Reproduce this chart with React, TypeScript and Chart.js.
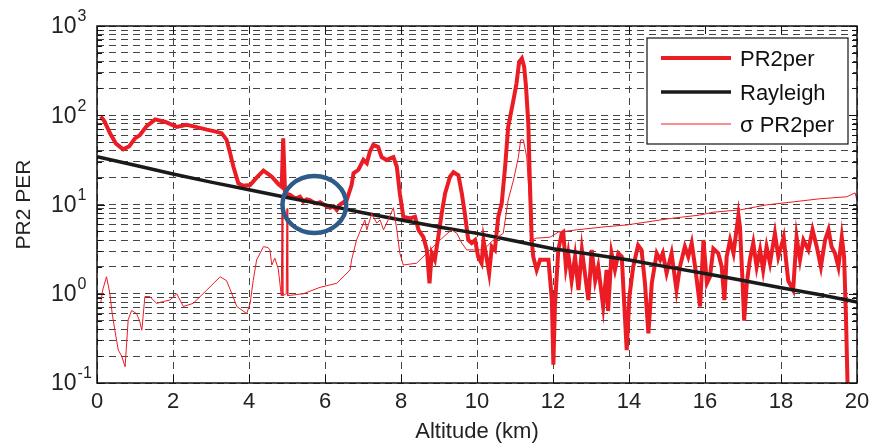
import React, { useEffect, useRef } from 'react';
import { Chart, registerables } from 'chart.js';

Chart.register(...registerables);

// ---------------- data ----------------
const pr2Alt = [
  0.1, 0.2, 0.35, 0.5, 0.69, 0.85, 1.0, 1.13, 1.3, 1.53, 1.8, 2.1, 2.36, 2.6, 2.89, 3.1, 3.28, 3.41, 3.5, 3.59,
  3.72, 3.85, 4.03, 4.2, 4.38, 4.5, 4.6, 4.77, 4.86, 4.9, 4.95, 5.08, 5.17, 5.25, 5.34, 5.43, 5.52, 5.6, 5.69, 5.78,
  5.87, 5.96, 6.05, 6.13, 6.22, 6.31, 6.4, 6.57, 6.7, 6.75, 6.88, 7.01, 7.1, 7.18, 7.27, 7.4, 7.49, 7.62, 7.8, 7.89,
  7.97, 8.06, 8.24, 8.37, 8.46, 8.59, 8.68, 8.75, 8.81, 8.89, 8.98, 9.07, 9.16, 9.29, 9.38, 9.51, 9.6, 9.68, 9.77, 9.86,
  9.95, 10.03, 10.12, 10.17, 10.26, 10.32, 10.39, 10.47, 10.56, 10.65, 10.74, 10.82, 10.96, 11.04, 11.11, 11.18, 11.24, 11.29, 11.35, 11.39,
  11.44, 11.48, 11.57, 11.66, 11.75, 11.88, 11.97, 12.01, 12.05, 12.14, 12.23, 12.27, 12.34, 12.4, 12.49, 12.58, 12.67, 12.76, 12.84, 12.93,
  13.02, 13.11, 13.19, 13.32, 13.41, 13.45, 13.54, 13.63, 13.72, 13.81, 13.86, 13.94, 14.01, 14.11, 14.24, 14.33, 14.42, 14.51, 14.6, 14.73,
  14.82, 14.89, 14.99, 15.12, 15.25, 15.34, 15.47, 15.56, 15.65, 15.74, 15.87, 15.96, 16.05, 16.13, 16.22, 16.35, 16.44, 16.51, 16.57, 16.66,
  16.75, 16.88, 16.92, 16.99, 17.03, 17.1, 17.18, 17.27, 17.36, 17.45, 17.53, 17.62, 17.71, 17.84, 17.93, 18.07, 18.19, 18.32, 18.41, 18.5,
  18.59, 18.72, 18.83, 18.94, 19.05, 19.16, 19.25, 19.33, 19.42, 19.51, 19.6, 19.66, 19.71, 19.75,
];
const pr2Val = [
  97, 85, 62, 48, 41.5, 45, 55, 60, 75, 90, 84, 74, 78, 74, 69, 66, 63, 53, 38, 26.5,
  17.3, 16.2, 16.5, 20, 24, 22, 20.5, 17, 15.8, 55, 13.3, 12.8, 12.0, 11.7, 12.2, 10.8, 11.4, 11.2, 10.6, 10.3,
  10.6, 10.0, 9.6, 9.2, 9.6, 8.7, 10, 11.2, 16.5, 22.4, 24.5, 31.6, 29, 39, 46.5, 44, 34, 31.6, 34, 26.5,
  13.3, 7.3, 7.0, 7.3, 5.2, 4.3, 3.1, 1.31, 2.84, 2.4, 4.3, 7.9, 13.3, 20.5, 23, 21.3, 13.3, 7.9, 4.0, 3.7,
  4.0, 2.6, 2.2, 4.0, 2.4, 1.7, 3.37, 3.1, 7.3, 10.3, 26.5, 74, 149, 228, 398, 434, 350, 209, 81, 18.8,
  4.0, 2.6, 1.85, 2.4, 2.4, 2.4, 0.85, 0.16, 0.72, 3.1, 4.75, 4.9, 2.0, 2.84, 1.4, 2.6, 1.1, 3.1, 1.7, 0.85,
  3.1, 1.4, 2.0, 0.72, 1.85, 0.64, 2.84, 1.85, 2.84, 2.6, 1.0, 0.234, 0.93, 2.0, 3.5, 3.1, 1.31, 0.36, 1.31, 2.84,
  2.4, 2.84, 1.7, 2.84, 1.1, 2.0, 3.37, 2.6, 3.7, 2.0, 0.72, 4.0, 1.31, 1.55, 3.2, 2.84, 2.0, 0.85, 2.6, 4.0,
  2.84, 7.6, 5.6, 1.31, 0.5, 1.31, 2.4, 3.7, 2.0, 3.1, 1.85, 3.37, 2.2, 4.75, 2.6, 4.3, 1.4, 1.1, 4.3, 2.4,
  4.0, 3.1, 5.2, 3.37, 2.0, 4.0, 5.2, 3.37, 2.84, 2.0, 4.3, 2.6, 0.55, 0.1,
];

const rayAlt = [0, 1, 2, 3, 4, 5, 6, 7, 8, 9, 10, 11, 12, 13, 14, 15, 16, 17, 18, 19, 20];
const rayVal = [34.4, 27.5, 22.0, 17.8, 14.6, 12.0, 9.9, 8.1, 6.7, 5.6, 4.75, 3.9, 3.2, 2.77, 2.39, 2.0, 1.69, 1.41, 1.17, 0.98, 0.81];

const sigmaAlt = [
  0.1, 0.15, 0.25, 0.34, 0.4, 0.47, 0.56, 0.65, 0.74, 0.82, 0.91, 1.04, 1.12, 1.18, 1.26, 1.39, 1.57, 1.75, 1.92, 2.1,
  2.27, 2.53, 2.89, 3.1, 3.24, 3.41, 3.55, 3.68, 3.94, 4.03, 4.11, 4.2, 4.38, 4.5, 4.55, 4.6, 4.68, 4.77, 4.85, 4.87,
  4.89, 4.98, 5.0, 5.02, 5.08, 5.43, 5.87, 6.31, 6.66, 6.7, 6.83, 6.97, 7.05, 7.1, 7.23, 7.36, 7.45, 7.54, 7.66, 7.8,
  7.89, 7.97, 8.06, 8.41, 8.68, 8.94, 9.11, 9.33, 9.47, 9.6, 9.73, 9.9, 10.17, 10.43, 10.69, 10.82, 10.96, 11.09, 11.15, 11.22,
  11.31, 11.39, 11.44, 11.57, 11.92, 12.14, 12.62, 13.32, 13.94, 14.5, 15.12, 15.85, 16.22, 16.92, 17.62, 18.32, 19.03, 19.73, 19.95, 20.0,
];
const sigmaVal = [
  0.8, 1.1, 1.55, 1.0, 0.6, 0.39, 0.234, 0.2, 0.152, 0.51, 0.65, 0.6, 0.5, 0.39, 0.93, 0.93, 0.78, 0.82, 0.85, 1.0,
  0.72, 0.78, 1.1, 1.35, 1.55, 1.4, 1.0, 0.72, 0.6, 0.78, 1.4, 2.39, 3.37, 3.3, 3.1, 2.1, 2.5, 1.9, 0.95, 10,
  0.95, 1.0, 9, 0.95, 0.96, 1.0, 1.18, 1.31, 1.85, 2.4, 4.0, 5.6, 6.7, 5.2, 7.9, 6.2, 6.7, 5.2, 6.7, 9.2,
  5.2, 2.84, 2.1, 2.2, 2.84, 3.7, 4.3, 5.2, 4.75, 3.7, 3.1, 3.1, 3.1, 4.0, 4.75, 11.2, 18.8, 34, 53, 53,
  34, 9.4, 4.0, 4.2, 4.3, 4.9, 5.2, 5.6, 5.9, 6.4, 7.0, 7.6, 8.2, 8.7, 9.9, 10.7, 11.6, 12.2, 13.5, 11.2,
];

const xTickValues = [0, 2, 4, 6, 8, 10, 12, 14, 16, 18, 20];
const yDecades = [-1, 0, 1, 2, 3];
const seriesLabels = ['PR2per', 'Rayleigh', 'σ PR2per'];
const xTitle = 'Altitude (km)';
const yTitle = 'PR2 PER';

// highlighted region (annotation ellipse), in data units
const markCenterAlt = 5.72;
const markCenterVal = 10;
const markRadiusAlt = 0.84;
const markRadiusDecades = 0.32;

// ---------------- styles ----------------
const FONT = '"Liberation Sans", Arial, Helvetica, sans-serif';
const RED = '#ec1c24';
const BLACK = '#1a1a1a';
const GRID = '#454545';

const toPoints = (xs: number[], ys: number[]) => xs.map((x, i) => ({ x, y: ys[i] }));

const yTickValues = (() => {
  const out: number[] = [];
  for (let e = -1; e < 3; e++) {
    for (let m = 1; m < 10; m++) out.push(parseFloat((m * Math.pow(10, e)).toPrecision(3)));
  }
  out.push(1000);
  return out;
})();

const decorPlugin = {
  id: 'decor',
  afterDatasetsDraw(chart: any) {
    const { ctx, scales } = chart;
    const x = scales.x;
    const y = scales.y;
    const cx = x.getPixelForValue(markCenterAlt);
    const cy = y.getPixelForValue(markCenterVal);
    const rx = Math.abs(x.getPixelForValue(markCenterAlt + markRadiusAlt) - cx);
    const ry = Math.abs(y.getPixelForValue(markCenterVal * Math.pow(10, markRadiusDecades)) - cy);
    ctx.save();
    ctx.strokeStyle = '#2f5b8b';
    ctx.lineWidth = 4.5;
    ctx.beginPath();
    ctx.ellipse(cx, cy, rx, ry, 0, 0, Math.PI * 2);
    ctx.stroke();
    ctx.restore();
  },
  afterDraw(chart: any) {
    const { ctx, chartArea: a, scales } = chart;
    const x = scales.x;
    const y = scales.y;
    ctx.save();
    // inward tick marks
    ctx.strokeStyle = '#111';
    ctx.lineWidth = 1;
    ctx.setLineDash([]);
    for (const v of yTickValues) {
      const py = Math.round(y.getPixelForValue(v)) + 0.5;
      const major = Math.abs(Math.log10(v) - Math.round(Math.log10(v))) < 1e-6;
      const len = major ? 8 : 5;
      ctx.beginPath();
      ctx.moveTo(a.left, py); ctx.lineTo(a.left + len, py);
      ctx.moveTo(a.right, py); ctx.lineTo(a.right - len, py);
      ctx.stroke();
    }
    for (const v of xTickValues) {
      const px = Math.round(x.getPixelForValue(v)) + 0.5;
      ctx.beginPath();
      ctx.moveTo(px, a.bottom); ctx.lineTo(px, a.bottom - 8);
      ctx.moveTo(px, a.top); ctx.lineTo(px, a.top + 8);
      ctx.stroke();
    }
    // axes box
    ctx.strokeStyle = '#111';
    ctx.lineWidth = 1.5;
    ctx.strokeRect(a.left, a.top, a.right - a.left, a.bottom - a.top);

    // y tick labels 10^n
    ctx.fillStyle = '#222';
    ctx.textBaseline = 'middle';
    ctx.textAlign = 'left';
    for (const e of yDecades) {
      const py = y.getPixelForValue(Math.pow(10, e));
      ctx.font = `23px ${FONT}`;
      const baseX = 51;
      ctx.fillText('10', baseX, py + 1);
      const w = ctx.measureText('10').width;
      ctx.font = `16px ${FONT}`;
      ctx.fillText(String(e), baseX + w + 1, py - 9);
    }

    // legend
    const ds = chart.data.datasets;
    const bx = a.right - 210;
    const by = a.top + 12;
    const bw = 201;
    const bh = 106;
    ctx.fillStyle = '#fff';
    ctx.fillRect(bx, by, bw, bh);
    ctx.strokeStyle = '#111';
    ctx.lineWidth = 1.2;
    ctx.strokeRect(bx, by, bw, bh);
    const rows = [20, 54, 86];
    seriesLabels.forEach((label, i) => {
      const d = ds[i];
      const ly = by + rows[i];
      ctx.strokeStyle = d.borderColor;
      ctx.lineWidth = d.borderWidth;
      ctx.beginPath();
      ctx.moveTo(bx + 14, ly);
      ctx.lineTo(bx + 84, ly);
      ctx.stroke();
      ctx.fillStyle = '#111';
      ctx.font = `22px ${FONT}`;
      ctx.textBaseline = 'middle';
      ctx.fillText(label, bx + 93, ly + 2);
    });
    ctx.restore();
  },
};

export default function App() {
  const canvasRef = useRef<HTMLCanvasElement | null>(null);

  useEffect(() => {
    document.body.style.margin = '0';
    const canvas = canvasRef.current;
    if (!canvas) return;
    const chart = new Chart(canvas, {
      type: 'line',
      data: {
        datasets: [
          {
            label: seriesLabels[0],
            data: toPoints(pr2Alt, pr2Val),
            borderColor: RED,
            borderWidth: 4,
            pointRadius: 0,
            tension: 0,
            order: 3,
          },
          {
            label: seriesLabels[1],
            data: toPoints(rayAlt, rayVal),
            borderColor: BLACK,
            borderWidth: 3.5,
            pointRadius: 0,
            tension: 0,
            order: 2,
          },
          {
            label: seriesLabels[2],
            data: toPoints(sigmaAlt, sigmaVal),
            borderColor: RED,
            borderWidth: 1,
            pointRadius: 0,
            tension: 0,
            order: 1,
          },
        ],
      },
      options: {
        animation: false,
        responsive: false,
        maintainAspectRatio: false,
        layout: { padding: { top: 26, right: 13, left: 0, bottom: 0 } },
        plugins: {
          legend: { display: false },
          tooltip: { enabled: false },
        },
        scales: {
          x: {
            type: 'linear',
            min: 0,
            max: 20,
            afterBuildTicks: (scale: any) => {
              scale.ticks = xTickValues.map((v) => ({ value: v }));
            },
            afterFit: (scale: any) => {
              scale.height = 62;
              scale.paddingLeft = 0;
              scale.paddingRight = 0;
            },
            ticks: {
              font: { family: FONT, size: 22 },
              color: '#222',
              padding: 6,
              maxRotation: 0,
              autoSkip: false,
            },
            grid: { color: GRID, lineWidth: 1, drawTicks: false },
            border: { display: false, dash: [7, 5] },
            title: {
              display: true,
              text: xTitle,
              font: { family: FONT, size: 22 },
              color: '#222',
              padding: { top: 0, bottom: 0 },
            },
          },
          y: {
            type: 'logarithmic',
            min: 0.1,
            max: 1000,
            afterBuildTicks: (scale: any) => {
              scale.ticks = yTickValues.map((v) => ({ value: v }));
            },
            afterFit: (scale: any) => {
              scale.width = 97;
            },
            ticks: { display: false },
            grid: { color: GRID, lineWidth: 1, drawTicks: false },
            border: { display: false, dash: [7, 5] },
            title: {
              display: true,
              text: yTitle,
              font: { family: FONT, size: 21 },
              color: '#222',
              padding: { top: 12, bottom: 0 },
            },
          },
        },
      },
      plugins: [decorPlugin],
    } as any);
    return () => chart.destroy();
  }, []);

  return (
    <div style={{ position: 'fixed', left: 0, top: 0, width: 870, height: 445, background: '#fff' }}>
      <canvas ref={canvasRef} width={870} height={445} style={{ display: 'block', width: 870, height: 445 }} />
    </div>
  );
}
